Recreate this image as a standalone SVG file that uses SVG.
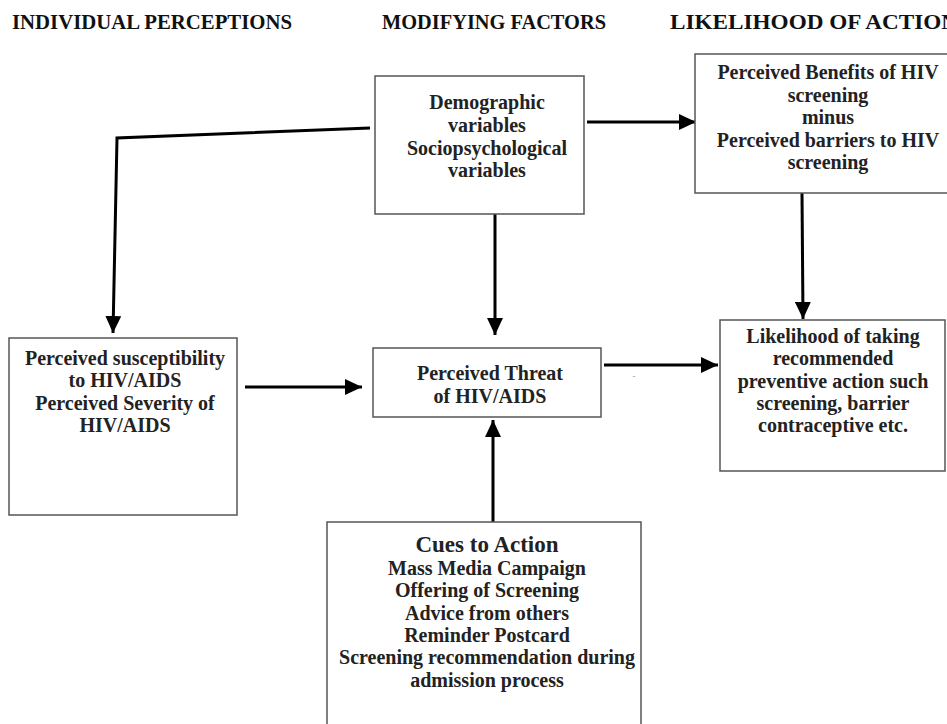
<svg xmlns="http://www.w3.org/2000/svg" width="947" height="724" viewBox="0 0 947 724">
<style>
.box{fill:#fff;stroke:#555;stroke-width:1.5}
.t{font-family:"Liberation Serif","Times New Roman",serif;font-weight:bold;font-size:20px;fill:#222;text-anchor:middle}
.h{font-family:"Liberation Serif","Times New Roman",serif;font-weight:bold;font-size:20px;fill:#111}
.c{fill:none;stroke:#000;stroke-width:3;marker-end:url(#ah)}
</style>
<defs>
<marker id="ah" markerUnits="userSpaceOnUse" markerWidth="17" markerHeight="16" refX="17" refY="8" orient="auto">
<path d="M0,0 L17,8 L0,16 z" fill="#000"/>
</marker>
</defs>
<rect width="947" height="724" fill="#fff"/>
<g id="headers">
<text class="h" x="12" y="29" textLength="280" lengthAdjust="spacingAndGlyphs">INDIVIDUAL PERCEPTIONS</text>
<text class="h" x="382" y="29" textLength="224" lengthAdjust="spacingAndGlyphs">MODIFYING FACTORS</text>
<text class="h" x="670" y="29" textLength="288" lengthAdjust="spacingAndGlyphs">LIKELIHOOD OF ACTION</text>
</g>
<g id="connectors">
<line class="c" x1="587" y1="122" x2="696" y2="122"/>
<line class="c" x1="802" y1="193" x2="803" y2="319"/>
<line class="c" x1="495" y1="214" x2="495" y2="335"/>
<line class="c" x1="493" y1="522" x2="493" y2="420"/>
<polyline class="c" points="370,128 117,138 113,333"/>
<line class="c" x1="245" y1="387" x2="362" y2="387"/>
<line class="c" x1="604" y1="365" x2="718" y2="365"/>
<text x="634" y="379" font-family="Liberation Sans, sans-serif" font-size="9" fill="#999" text-anchor="middle">-</text>
</g>
<g id="demographic">
<rect class="box" x="375" y="76" width="209" height="138"/>
<text class="t" x="487" y="109">Demographic</text>
<text class="t" x="487" y="132">variables</text>
<text class="t" x="487" y="155">Sociopsychological</text>
<text class="t" x="487" y="177">variables</text>
</g>
<g id="benefits">
<rect class="box" x="695" y="54" width="270" height="139"/>
<text class="t" x="828" y="79">Perceived Benefits of HIV</text>
<text class="t" x="828" y="102">screening</text>
<text class="t" x="828" y="124">minus</text>
<text class="t" x="828" y="147">Perceived barriers to HIV</text>
<text class="t" x="828" y="169">screening</text>
</g>
<g id="likelihood">
<rect class="box" x="720" y="320" width="225" height="151"/>
<text class="t" x="833" y="343">Likelihood of taking</text>
<text class="t" x="833" y="365">recommended</text>
<text class="t" x="833" y="388">preventive action such</text>
<text class="t" x="833" y="410">screening, barrier</text>
<text class="t" x="833" y="432">contraceptive etc.</text>
</g>
<g id="susceptibility">
<rect class="box" x="9" y="338" width="228" height="177"/>
<text class="t" x="125" y="365">Perceived susceptibility</text>
<text class="t" x="125" y="387">to HIV/AIDS</text>
<text class="t" x="125" y="410">Perceived Severity of</text>
<text class="t" x="125" y="432">HIV/AIDS</text>
</g>
<g id="threat">
<rect class="box" x="373" y="348" width="228" height="69"/>
<text class="t" x="490" y="380">Perceived Threat</text>
<text class="t" x="490" y="403">of HIV/AIDS</text>
</g>
<g id="cues">
<rect class="box" x="327" y="522" width="314" height="215"/>
<text class="t" x="487" y="552" style="font-size:23px">Cues to Action</text>
<text class="t" x="487" y="575">Mass Media Campaign</text>
<text class="t" x="487" y="597">Offering of Screening</text>
<text class="t" x="487" y="620">Advice from others</text>
<text class="t" x="487" y="642">Reminder Postcard</text>
<text class="t" x="487" y="664">Screening recommendation during</text>
<text class="t" x="487" y="687">admission process</text>
</g>
</svg>
